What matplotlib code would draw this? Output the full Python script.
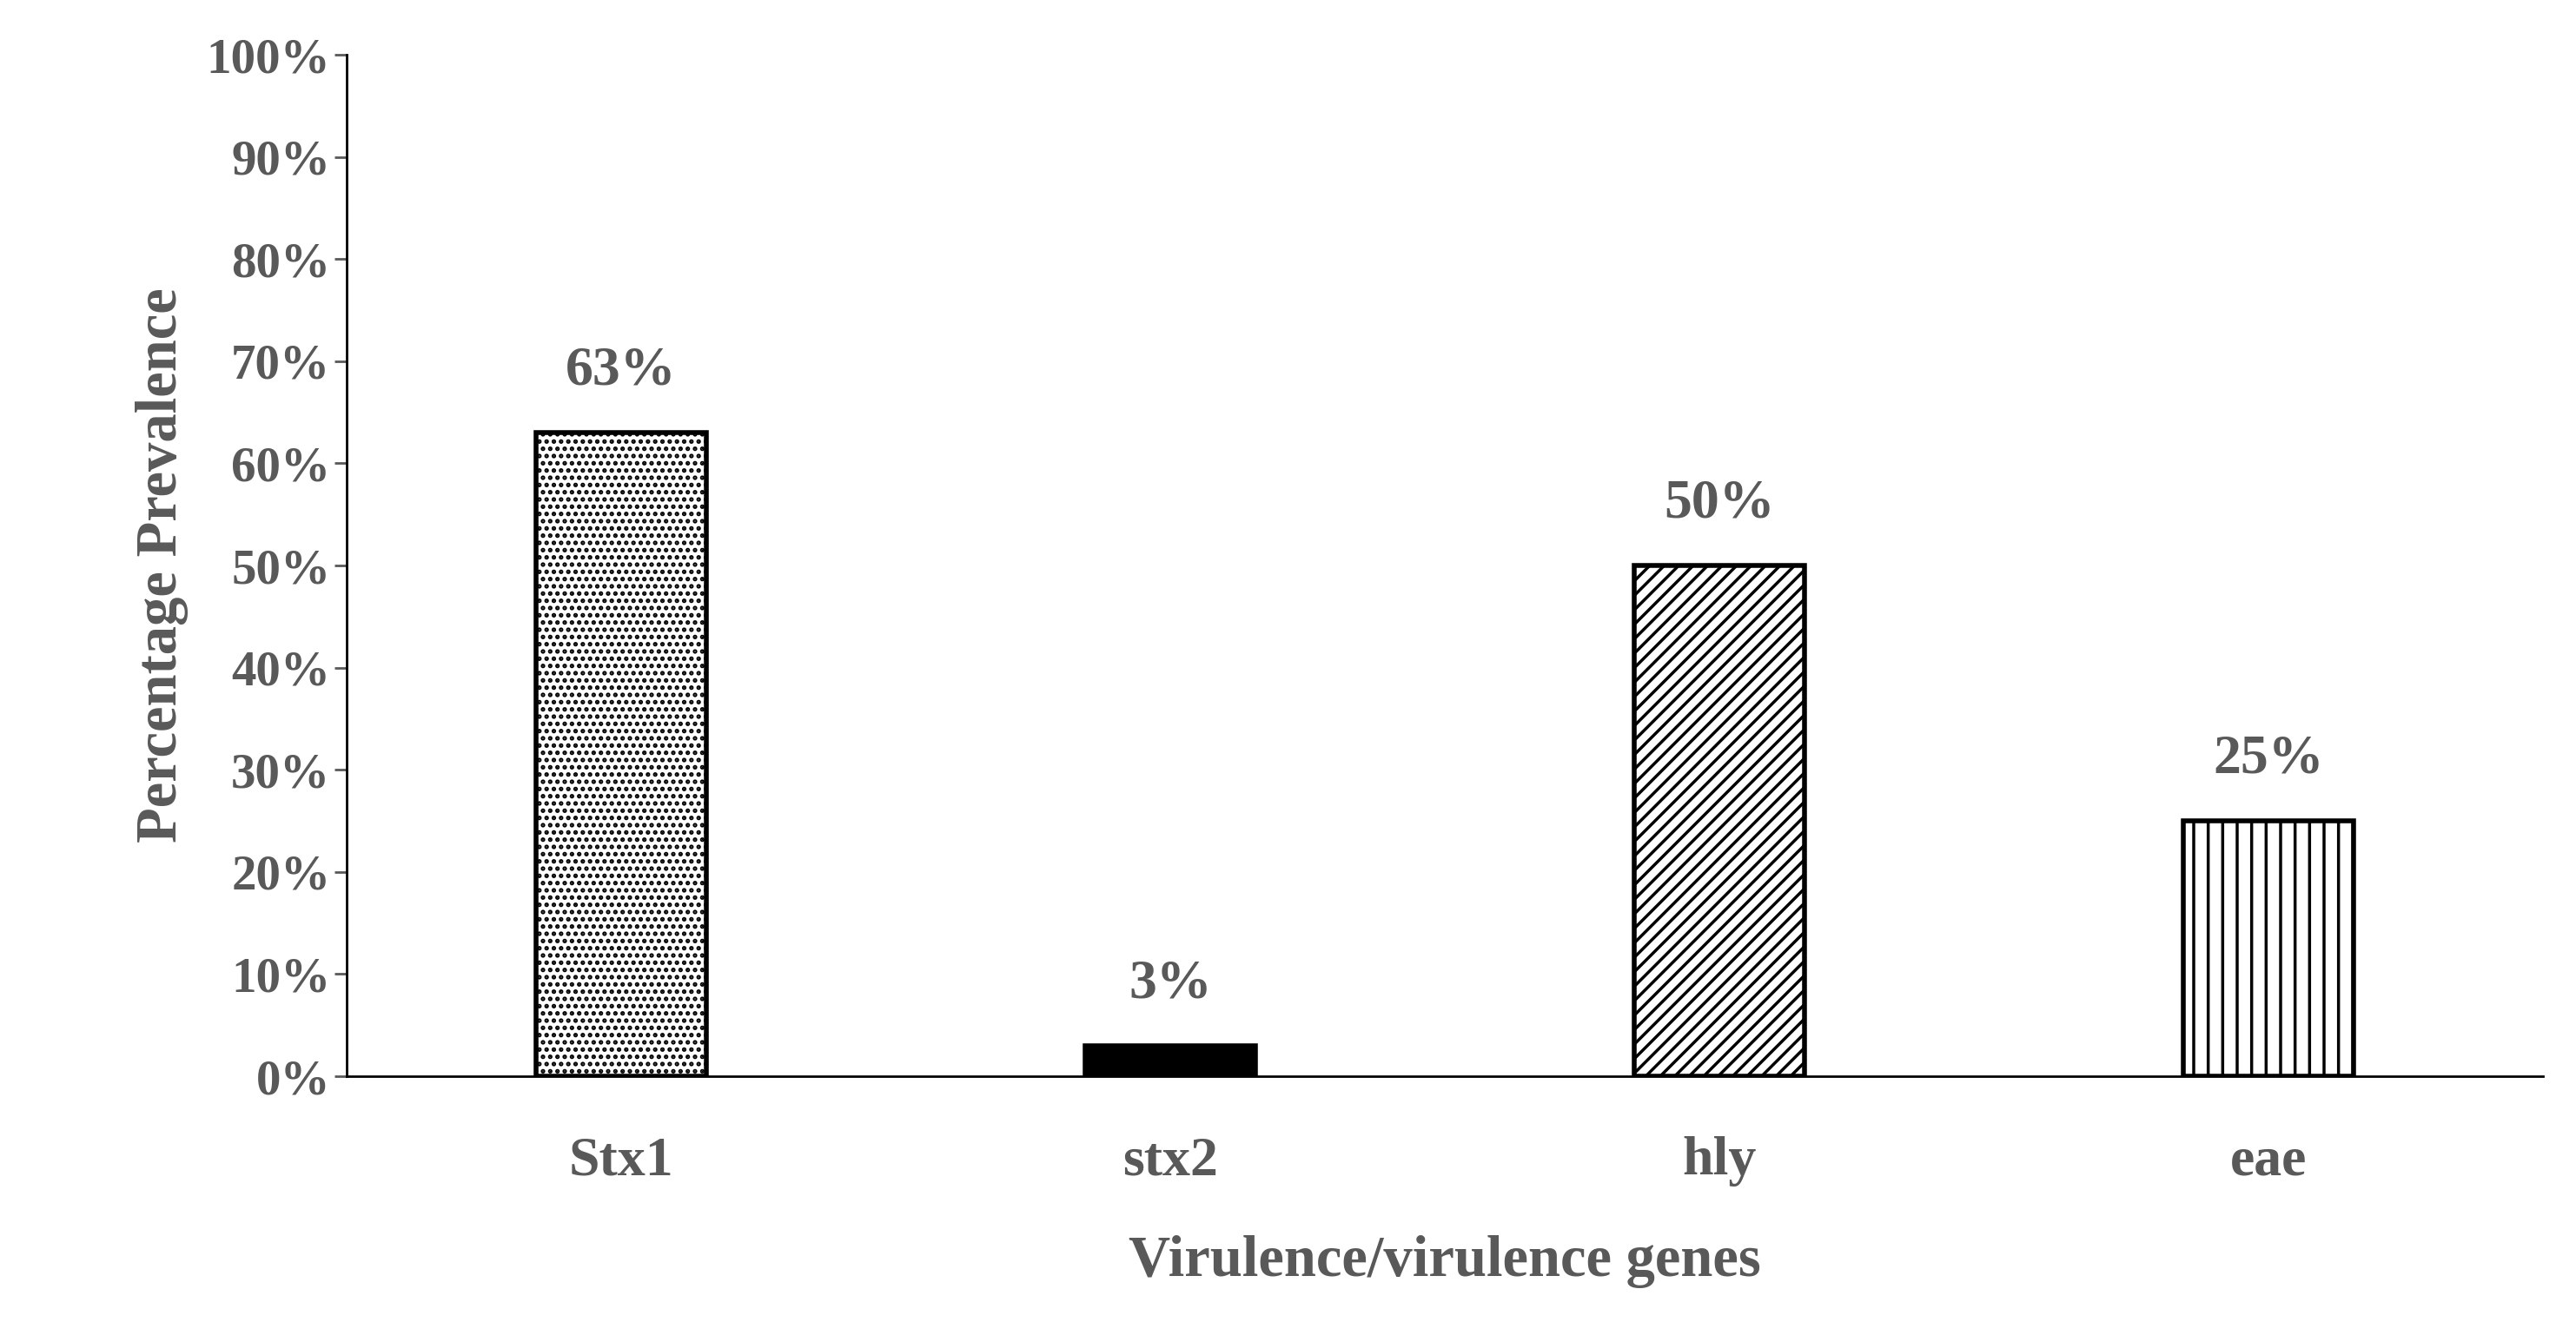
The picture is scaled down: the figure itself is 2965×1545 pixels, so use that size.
import matplotlib.pyplot as plt
from matplotlib.ticker import PercentFormatter

genes = ["Stx1", "stx2", "hly", "eae"]
prevalence = [63, 3, 50, 25]
hatches = ["..", "", "//", "|"]
fills = ["white", "black", "white", "white"]

grey = "#595959"
plt.rcParams["font.family"] = ["Liberation Serif", "DejaVu Serif"]
plt.rcParams["font.weight"] = "bold"
plt.rcParams["hatch.linewidth"] = 2.5

fig = plt.figure(figsize=(29.65, 15.45), dpi=100)
ax = fig.add_axes([399 / 2965, 1 - 1239 / 1545, (2927 - 399) / 2965, (1239 - 63) / 1545])

x = range(len(genes))
bars = ax.bar(x, prevalence, width=0.31, color=fills, edgecolor="black", linewidth=4)
for b, h in zip(bars, hatches):
    b.set_hatch(h)
for xi, v in zip(x, prevalence):
    ax.text(xi, v + 3.5, f"{v}%", ha="center", va="bottom", fontsize=46, color=grey, fontweight="bold")

ax.set_xlim(-0.5, 3.5)
ax.set_ylim(0, 100)
ax.set_yticks(range(0, 101, 10))
ax.yaxis.set_major_formatter(PercentFormatter(decimals=0))
ax.set_xticks(list(x))
ax.set_xticklabels(genes)
ax.tick_params(axis="y", labelsize=41, colors=grey, length=10, width=2, direction="out")
ax.tick_params(axis="x", labelsize=46, colors=grey, length=0, pad=50)
for lbl in ax.get_xticklabels() + ax.get_yticklabels():
    lbl.set_fontweight("bold")
for s in ["top", "right"]:
    ax.spines[s].set_visible(False)
ax.spines["left"].set_linewidth(2)
ax.spines["bottom"].set_linewidth(2)

ax.set_xlabel("Virulence/virulence genes", fontsize=48, color=grey, fontweight="bold", labelpad=40)
ax.set_ylabel("Percentage Prevalence", fontsize=48, color=grey, fontweight="bold", labelpad=15)

fig.savefig("out.png", dpi=100)
